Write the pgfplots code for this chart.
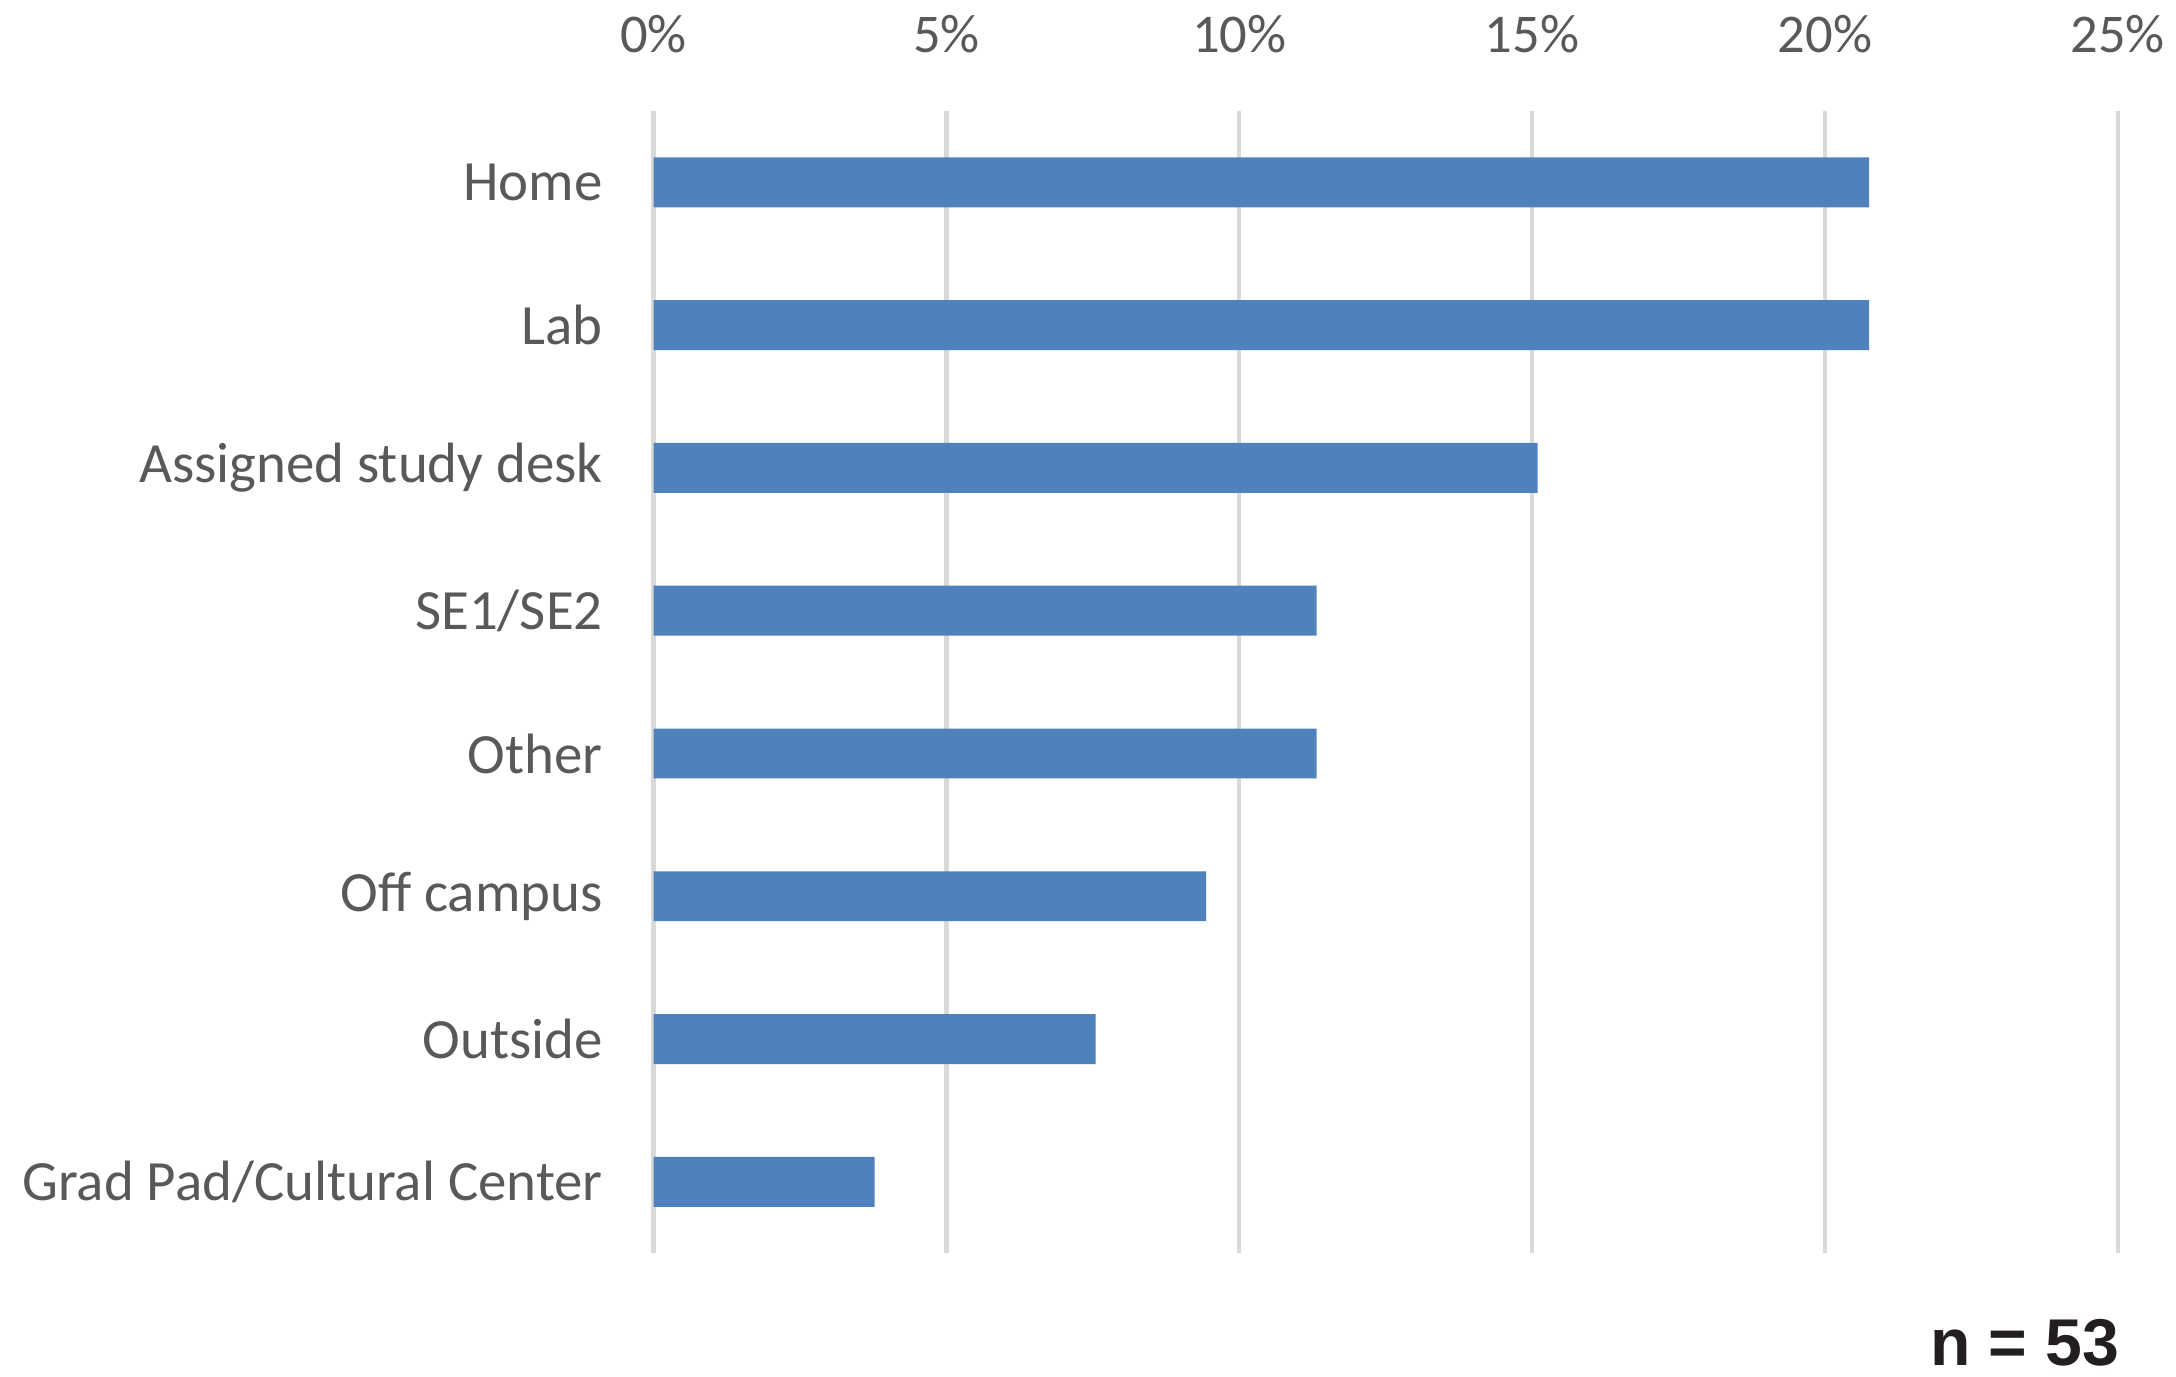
\documentclass[border=0pt]{standalone}
\usepackage{pgfplots}
\pgfplotsset{compat=1.18}
\usepackage{fontspec}
\setmainfont{Carlito}
\newfontfamily\arialfont{Liberation Sans}
\definecolor{barblue}{HTML}{4F81BD}
\definecolor{gridgray}{HTML}{D9D9D9}
\definecolor{labelgray}{HTML}{595959}
\begin{document}
\begin{tikzpicture}
\useasboundingbox (0,0) rectangle (470.4pt,297.6pt);
\begin{axis}[
  at={(141.3pt,26.7pt)}, anchor=south west,
  scale only axis, width=316.5pt, height=246.9pt,
  xbar, bar width=10.8pt,
  xmin=0, xmax=25, ymin=-0.5, ymax=7.5,
  y dir=reverse,
  axis line style={draw=none},
  xtick={0,5,10,15,20,25},
  ytick={0,1,2,3,4,5,6,7},
  yticklabels={Home,Lab,Assigned study desk,SE1/SE2,Other,Off campus,Outside,Grad Pad/Cultural Center},
  xticklabel pos=top,
  xmajorgrids, major grid style={gridgray, line width=0.95pt},
  major tick length=0pt, tick style={draw=none},
  /pgf/number format/assume math mode=true,
  xticklabel={\pgfmathprintnumber{\tick}\%},
  xticklabel style={font=\fontsize{11.8}{14}\selectfont, text=labelgray, anchor=base, inner sep=0pt, yshift=12.6pt},
  yticklabel style={font=\fontsize{12.3}{14}\selectfont, text=labelgray, anchor=east, inner sep=0pt, xshift=-10.8pt},
  clip=false,
]
\addplot[fill=barblue, draw=none] coordinates {
  (20.755,0) (20.755,1) (15.094,2) (11.321,3) (11.321,4) (9.434,5) (7.547,6) (3.774,7)
};
\end{axis}
\node[anchor=base east, inner sep=0pt, font=\arialfont\bfseries\fontsize{14.3}{16}\selectfont, text={rgb,255:red,35;green,31;blue,32}] at (458.4pt,2.5pt) {n = 53};
\end{tikzpicture}
\end{document}
